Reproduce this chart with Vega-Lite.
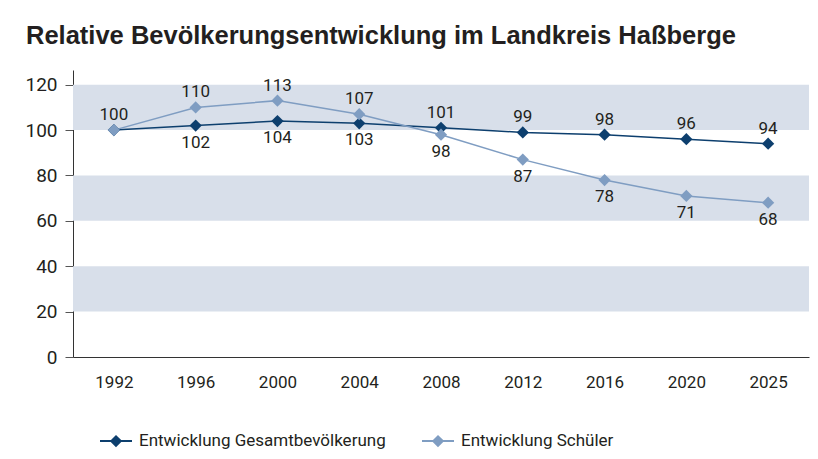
{
  "$schema": "https://vega.github.io/schema/vega-lite/v6.json",
  "width": 736,
  "height": 287,
  "autosize": {"type": "none"},
  "padding": {"left": 73, "top": 70, "right": 9, "bottom": 102},
  "background": "white",
  "config": {
    "view": {"stroke": null},
    "font": "Roboto",
    "axis": {"labelFont": "Roboto", "labelColor": "#231f20", "domainColor": "#333333", "tickColor": "#555555", "grid": false, "title": null}
  },
  "title": {
    "text": "Relative Bevölkerungsentwicklung im Landkreis Haßberge",
    "anchor": "start",
    "frame": "group",
    "font": "Liberation Sans",
    "fontSize": 25.5,
    "fontWeight": "bold",
    "color": "#231f20",
    "baseline": "alphabetic",
    "offset": 1,
    "dx": -47
  },
  "datasets": {
    "pop": [
      {"Jahr": "1992", "Gesamt": 100, "Schueler": 100},
      {"Jahr": "1996", "Gesamt": 102, "Schueler": 110},
      {"Jahr": "2000", "Gesamt": 104, "Schueler": 113},
      {"Jahr": "2004", "Gesamt": 103, "Schueler": 107},
      {"Jahr": "2008", "Gesamt": 101, "Schueler": 98},
      {"Jahr": "2012", "Gesamt": 99, "Schueler": 87},
      {"Jahr": "2016", "Gesamt": 98, "Schueler": 78},
      {"Jahr": "2020", "Gesamt": 96, "Schueler": 71},
      {"Jahr": "2025", "Gesamt": 94, "Schueler": 68}
    ],
    "bands": [
      {"von": 20, "bis": 40},
      {"von": 60, "bis": 80},
      {"von": 100, "bis": 120}
    ]
  },
  "layer": [
    {
      "data": {"name": "bands"},
      "mark": {"type": "rect", "color": "#d8dfea"},
      "encoding": {
        "y": {"field": "von", "type": "quantitative", "scale": {"domain": [0, 126.5], "nice": false, "zero": true},
              "axis": {"values": [0, 20, 40, 60, 80, 100, 120], "labelFontSize": 19, "tickSize": 8, "labelPadding": 8, "domainColor": "#333333"}},
        "y2": {"field": "bis"}
      }
    },
    {
      "data": {"name": "pop"},
      "transform": [{"fold": ["Gesamt", "Schueler"], "as": ["Serie", "Wert"]}],
      "mark": {"type": "line", "strokeWidth": 1.5, "point": {"shape": "diamond", "size": 150, "filled": true}},
      "encoding": {
        "x": {"field": "Jahr", "type": "ordinal", "sort": null, "scale": {"type": "point", "padding": 0.5},
              "axis": {"ticks": false, "labelPadding": 17, "labelFontSize": 17, "labelAngle": 0}},
        "y": {"field": "Wert", "type": "quantitative"},
        "color": {
          "field": "Serie", "type": "nominal",
          "scale": {"domain": ["Gesamt", "Schueler"], "range": ["#0d3f6e", "#7f9dc2"]},
          "legend": {
            "title": null,
            "orient": "none",
            "legendX": 26,
            "legendY": 354,
            "direction": "horizontal",
            "labelExpr": "datum.label == 'Gesamt' ? 'Entwicklung Gesamtbevölkerung' : 'Entwicklung Schüler'",
            "labelFontSize": 17,
            "labelFont": "Roboto",
            "labelColor": "#231f20",
            "labelLimit": 400,
            "symbolType": "M-1,0H-0.3L0,-0.3L0.3,0L0,0.3L-0.3,0ZM0.3,0H1",
            "symbolSize": 1024,
            "symbolStrokeWidth": 2,
            "columnPadding": 32,
            "labelOffset": 6
          }
        }
      }
    },
    {
      "data": {"name": "pop"},
      "transform": [{"filter": "datum.Gesamt >= datum.Schueler"}],
      "mark": {"type": "text", "fontSize": 17, "color": "#231f20", "dy": -15, "baseline": "middle"},
      "encoding": {
        "x": {"field": "Jahr", "type": "ordinal", "sort": null},
        "y": {"field": "Gesamt", "type": "quantitative"},
        "text": {"field": "Gesamt"}
      }
    },
    {
      "data": {"name": "pop"},
      "transform": [{"filter": "datum.Gesamt < datum.Schueler"}],
      "mark": {"type": "text", "fontSize": 17, "color": "#231f20", "dy": 17, "baseline": "middle"},
      "encoding": {
        "x": {"field": "Jahr", "type": "ordinal", "sort": null},
        "y": {"field": "Gesamt", "type": "quantitative"},
        "text": {"field": "Gesamt"}
      }
    },
    {
      "data": {"name": "pop"},
      "transform": [{"filter": "datum.Schueler > datum.Gesamt"}],
      "mark": {"type": "text", "fontSize": 17, "color": "#231f20", "dy": -15, "baseline": "middle"},
      "encoding": {
        "x": {"field": "Jahr", "type": "ordinal", "sort": null},
        "y": {"field": "Schueler", "type": "quantitative"},
        "text": {"field": "Schueler"}
      }
    },
    {
      "data": {"name": "pop"},
      "transform": [{"filter": "datum.Schueler < datum.Gesamt"}],
      "mark": {"type": "text", "fontSize": 17, "color": "#231f20", "dy": 17, "baseline": "middle"},
      "encoding": {
        "x": {"field": "Jahr", "type": "ordinal", "sort": null},
        "y": {"field": "Schueler", "type": "quantitative"},
        "text": {"field": "Schueler"}
      }
    }
  ]
}
